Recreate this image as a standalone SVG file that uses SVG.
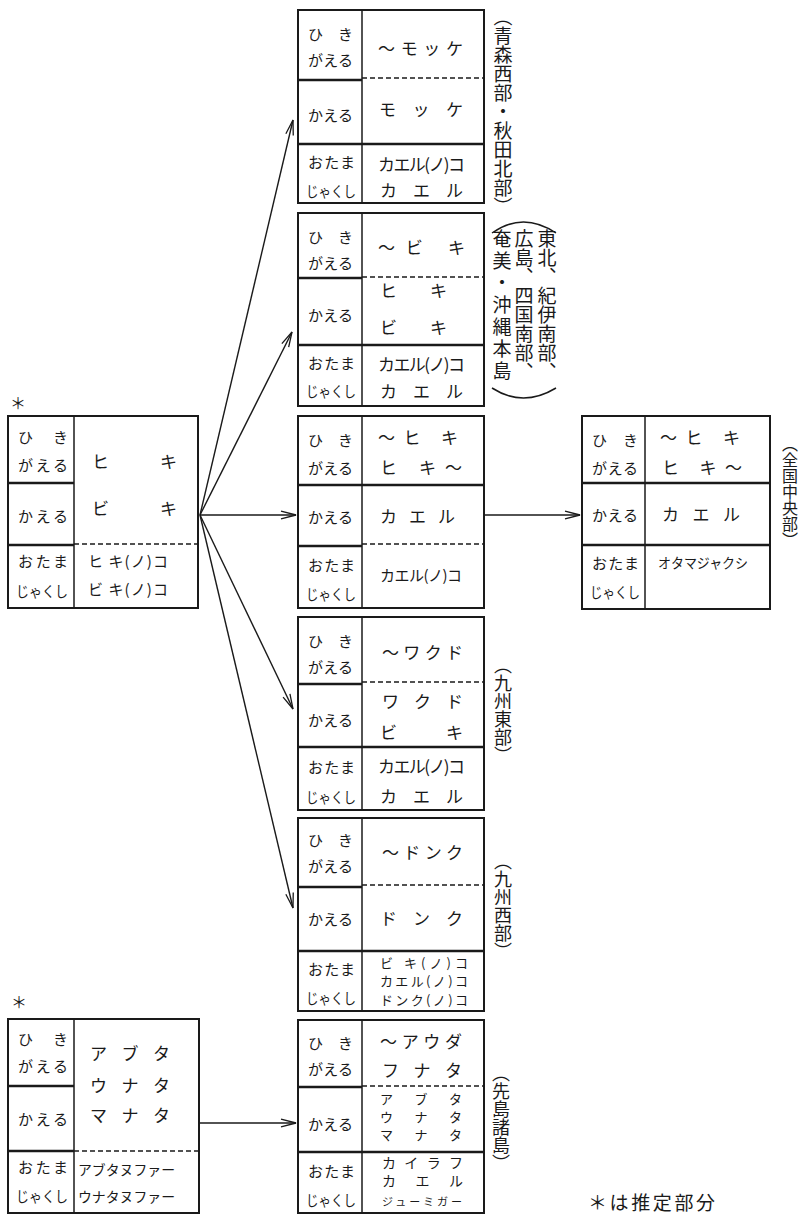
<svg xmlns="http://www.w3.org/2000/svg" width="802" height="1216" viewBox="0 0 802 1216">
<style>
.bg{fill:#fff}
.b{fill:#fff;stroke:#1a1a1a;stroke-width:2}
.d{stroke:#1a1a1a;stroke-width:1.5;fill:none}
.dl{stroke:#1a1a1a;stroke-width:2.4;fill:none}
.dd{stroke:#1a1a1a;stroke-width:1.3;stroke-dasharray:5 3;fill:none}
text{font-family:"Noto Sans CJK JP","Noto Sans CJK SC",sans-serif;fill:#1a1a1a}
.s{font-size:15px}
.m{font-size:17px}
.m15{font-size:15px}
.m14{font-size:14px}
.m13{font-size:13px}
.m11{font-size:11px}
.v{writing-mode:vertical-rl;font-size:19px}
.c{stroke:#1a1a1a;stroke-width:1.4;fill:none}
</style>
<defs>
<marker id="ah" markerUnits="userSpaceOnUse" markerWidth="20" markerHeight="12" refX="16" refY="6" orient="auto">
<path d="M1,2.2 L16,6 L1,9.8" fill="none" stroke="#1a1a1a" stroke-width="1.3"/>
</marker>
</defs>
<rect class="bg" x="0" y="0" width="802" height="1216"/>

<g id="connectors">
<line class="c" x1="200" y1="515" x2="293" y2="120" marker-end="url(#ah)"/>
<line class="c" x1="200" y1="515" x2="292" y2="332" marker-end="url(#ah)"/>
<line class="c" x1="200" y1="515" x2="296" y2="515" marker-end="url(#ah)"/>
<line class="c" x1="200" y1="515" x2="293" y2="709" marker-end="url(#ah)"/>
<line class="c" x1="200" y1="515" x2="293" y2="908" marker-end="url(#ah)"/>
<line class="c" x1="484" y1="515" x2="580" y2="515" marker-end="url(#ah)"/>
<line class="c" x1="199" y1="1123" x2="296" y2="1123" marker-end="url(#ah)"/>
</g>

<g id="origin-1">
<text x="10" y="409" style="font-size:16px">＊</text>
<rect class="b" x="8" y="416" width="190" height="192"/>
<line class="d" x1="74" y1="416" x2="74" y2="608"/>
<line class="dl" x1="8" y1="483" x2="74" y2="483"/>
<line class="dl" x1="8" y1="545" x2="74" y2="545"/>
<line class="dd" x1="74" y1="544" x2="198" y2="544"/>
<text class="s" x="18" y="443" textLength="50">ひ　き</text>
<text class="s" x="18" y="471" textLength="50">がえる</text>
<text class="s" x="18" y="522" textLength="50">かえる</text>
<text class="s" x="18" y="567" textLength="50">おたま</text>
<text class="s" x="16" y="597" textLength="52" lengthAdjust="spacingAndGlyphs">じゃくし</text>
<text class="m" x="92" y="468" textLength="85">ヒ キ</text>
<text class="m" x="92" y="515" textLength="85">ビ キ</text>
<text class="m15" x="88" y="567" textLength="80">ヒ キ(ノ)コ</text>
<text class="m15" x="88" y="595" textLength="80">ビ キ(ノ)コ</text>
</g>

<g id="origin-2">
<text x="11" y="1008" style="font-size:16px">＊</text>
<rect class="b" x="8" y="1019" width="191" height="194"/>
<line class="d" x1="74" y1="1019" x2="74" y2="1213"/>
<line class="dl" x1="8" y1="1086" x2="74" y2="1086"/>
<line class="dl" x1="8" y1="1151" x2="74" y2="1151"/>
<line class="dd" x1="74" y1="1151" x2="199" y2="1151"/>
<text class="s" x="18" y="1045" textLength="50">ひ　き</text>
<text class="s" x="18" y="1072" textLength="50">がえる</text>
<text class="s" x="18" y="1125" textLength="50">かえる</text>
<text class="s" x="18" y="1173" textLength="50">おたま</text>
<text class="s" x="16" y="1202" textLength="52" lengthAdjust="spacingAndGlyphs">じゃくし</text>
<text class="m" x="90" y="1060" textLength="80">ア ブ タ</text>
<text class="m" x="90" y="1092" textLength="80">ウ ナ タ</text>
<text class="m" x="90" y="1122" textLength="80">マ ナ タ</text>
<text class="m14" x="78" y="1175" textLength="97" lengthAdjust="spacingAndGlyphs">アブタヌファー</text>
<text class="m14" x="78" y="1202" textLength="97" lengthAdjust="spacingAndGlyphs">ウナタヌファー</text>
</g>

<g id="aomori-akita">
<rect class="b" x="298" y="10" width="186" height="193"/>
<line class="d" x1="362" y1="10" x2="362" y2="203"/>
<line class="dl" x1="298" y1="80" x2="362" y2="80"/>
<line class="dd" x1="362" y1="78" x2="484" y2="78"/>
<line class="dl" x1="298" y1="144" x2="484" y2="144"/>
<text class="s" x="308" y="40" textLength="45">ひ　き</text>
<text class="s" x="308" y="66" textLength="45">がえる</text>
<text class="s" x="308" y="121" textLength="45">かえる</text>
<text class="s" x="308" y="168" textLength="47">おたま</text>
<text class="s" x="306" y="197" textLength="50" lengthAdjust="spacingAndGlyphs">じゃくし</text>
<text class="m" x="378" y="55" textLength="85">～モッケ</text>
<text class="m" x="379" y="116" textLength="84">モ ッ ケ</text>
<text class="m" x="378" y="171" textLength="87">カエル(ノ)コ</text>
<text class="m" x="380" y="197" textLength="83">カ エ ル</text>
<text class="v" x="503" y="7">（青森西部・秋田北部）</text>
</g>

<g id="tohoku-kii">
<rect class="b" x="298" y="213" width="186" height="193"/>
<line class="d" x1="362" y1="213" x2="362" y2="406"/>
<line class="dl" x1="298" y1="278" x2="362" y2="278"/>
<line class="dd" x1="362" y1="277" x2="484" y2="277"/>
<line class="dl" x1="298" y1="345" x2="484" y2="345"/>
<text class="s" x="308" y="243" textLength="45">ひ　き</text>
<text class="s" x="308" y="269" textLength="45">がえる</text>
<text class="s" x="308" y="321" textLength="45">かえる</text>
<text class="s" x="308" y="369" textLength="47">おたま</text>
<text class="s" x="306" y="397" textLength="50" lengthAdjust="spacingAndGlyphs">じゃくし</text>
<text class="m" x="378" y="254" textLength="87">～ビ キ</text>
<text class="m" x="380" y="297" textLength="67">ヒ キ</text>
<text class="m" x="380" y="334" textLength="67">ビ キ</text>
<text class="m" x="378" y="371" textLength="87">カエル(ノ)コ</text>
<text class="m" x="380" y="398" textLength="83">カ エ ル</text>
<path class="d" d="M492,233 Q523,211 556,233"/>
<path class="d" d="M492,388 Q523,408 556,388"/>
<text class="v" x="547" y="229">東北、紀伊南部、</text>
<text class="v" x="524" y="229">広島、四国南部、</text>
<text class="v" x="502" y="229" style="letter-spacing:3px">奄美・沖縄本島</text>
</g>

<g id="kaeru-center">
<rect class="b" x="298" y="416" width="186" height="192"/>
<line class="d" x1="362" y1="416" x2="362" y2="608"/>
<line class="dl" x1="298" y1="485" x2="484" y2="485"/>
<line class="dl" x1="298" y1="546" x2="362" y2="546"/>
<line class="dd" x1="362" y1="544" x2="484" y2="544"/>
<text class="s" x="308" y="446" textLength="45">ひ　き</text>
<text class="s" x="308" y="474" textLength="45">がえる</text>
<text class="s" x="308" y="523" textLength="45">かえる</text>
<text class="s" x="308" y="571" textLength="47">おたま</text>
<text class="s" x="306" y="600" textLength="50" lengthAdjust="spacingAndGlyphs">じゃくし</text>
<text class="m" x="378" y="444" textLength="80">～ヒ キ</text>
<text class="m" x="380" y="474" textLength="82">ヒ キ～</text>
<text class="m" x="380" y="523" textLength="75">カ エ ル</text>
<text class="m15" x="380" y="581" textLength="82">カエル(ノ)コ</text>
</g>

<g id="zenkoku-chubu">
<rect class="b" x="582" y="416" width="188" height="193"/>
<line class="d" x1="645" y1="416" x2="645" y2="609"/>
<line class="dl" x1="582" y1="483" x2="770" y2="483"/>
<line class="dl" x1="582" y1="545" x2="770" y2="545"/>
<text class="s" x="592" y="446" textLength="46">ひ　き</text>
<text class="s" x="592" y="474" textLength="46">がえる</text>
<text class="s" x="592" y="521" textLength="46">かえる</text>
<text class="s" x="592" y="569" textLength="47">おたま</text>
<text class="s" x="590" y="598" textLength="50" lengthAdjust="spacingAndGlyphs">じゃくし</text>
<text class="m" x="660" y="444" textLength="80">～ヒ キ</text>
<text class="m" x="662" y="474" textLength="80">ヒ キ～</text>
<text class="m" x="662" y="521" textLength="78">カ エ ル</text>
<text class="m14" x="658" y="568" textLength="90" lengthAdjust="spacingAndGlyphs">オタマジャクシ</text>
<text class="v" x="790" y="436" style="font-size:16px">（全国中央部）</text>
</g>

<g id="kyushu-east">
<rect class="b" x="298" y="617" width="186" height="193"/>
<line class="d" x1="362" y1="617" x2="362" y2="810"/>
<line class="dl" x1="298" y1="684" x2="362" y2="684"/>
<line class="dd" x1="362" y1="682" x2="484" y2="682"/>
<line class="dl" x1="298" y1="747" x2="484" y2="747"/>
<text class="s" x="308" y="647" textLength="45">ひ　き</text>
<text class="s" x="308" y="673" textLength="45">がえる</text>
<text class="s" x="308" y="726" textLength="45">かえる</text>
<text class="s" x="308" y="773" textLength="47">おたま</text>
<text class="s" x="306" y="803" textLength="50" lengthAdjust="spacingAndGlyphs">じゃくし</text>
<text class="m" x="382" y="659" textLength="81">～ワクド</text>
<text class="m" x="382" y="708" textLength="81">ワ ク ド</text>
<text class="m" x="380" y="739" textLength="83">ビ キ</text>
<text class="m" x="378" y="773" textLength="87">カエル(ノ)コ</text>
<text class="m" x="380" y="803" textLength="83">カ エ ル</text>
<text class="v" x="503" y="656" style="font-size:18px">（九州東部）</text>
</g>

<g id="kyushu-west">
<rect class="b" x="298" y="818" width="186" height="193"/>
<line class="d" x1="362" y1="818" x2="362" y2="1011"/>
<line class="dl" x1="298" y1="887" x2="362" y2="887"/>
<line class="dd" x1="362" y1="885" x2="484" y2="885"/>
<line class="dl" x1="298" y1="951" x2="484" y2="951"/>
<text class="s" x="308" y="846" textLength="45">ひ　き</text>
<text class="s" x="308" y="872" textLength="45">がえる</text>
<text class="s" x="308" y="925" textLength="45">かえる</text>
<text class="s" x="308" y="975" textLength="47">おたま</text>
<text class="s" x="306" y="1004" textLength="50" lengthAdjust="spacingAndGlyphs">じゃくし</text>
<text class="m" x="382" y="859" textLength="81">～ドンク</text>
<text class="m" x="380" y="925" textLength="83">ド ン ク</text>
<text class="m13" x="380" y="968" textLength="88">ビ キ(ノ)コ</text>
<text class="m13" x="380" y="986" textLength="88">カエル(ノ)コ</text>
<text class="m13" x="380" y="1005" textLength="88">ドンク(ノ)コ</text>
<text class="v" x="503" y="852" style="font-size:18px">（九州西部）</text>
</g>

<g id="sakishima">
<rect class="b" x="298" y="1020" width="186" height="193"/>
<line class="d" x1="362" y1="1020" x2="362" y2="1213"/>
<line class="dl" x1="298" y1="1087" x2="362" y2="1087"/>
<line class="dd" x1="362" y1="1086" x2="484" y2="1086"/>
<line class="dl" x1="298" y1="1152" x2="484" y2="1152"/>
<text class="s" x="308" y="1049" textLength="45">ひ　き</text>
<text class="s" x="308" y="1075" textLength="45">がえる</text>
<text class="s" x="308" y="1130" textLength="45">かえる</text>
<text class="s" x="308" y="1177" textLength="47">おたま</text>
<text class="s" x="306" y="1206" textLength="50" lengthAdjust="spacingAndGlyphs">じゃくし</text>
<text class="m" x="380" y="1048" textLength="82">～アウダ</text>
<text class="m" x="382" y="1077" textLength="80">フ ナ タ</text>
<text class="m13" x="380" y="1104" textLength="82">ア ブ タ</text>
<text class="m13" x="380" y="1122" textLength="82">ウ ナ タ</text>
<text class="m13" x="380" y="1140" textLength="82">マ ナ タ</text>
<text class="m14" x="382" y="1168" textLength="81">カイラフ</text>
<text class="m14" x="382" y="1186" textLength="81">カ エ ル</text>
<text class="m11" x="382" y="1206" textLength="80">ジューミガー</text>
<text class="v" x="501" y="1064" style="font-size:18px">（先島諸島）</text>
</g>

<g id="legend">
<text x="588" y="1210" style="font-size:19px" textLength="127">＊は推定部分</text>
</g>
</svg>
